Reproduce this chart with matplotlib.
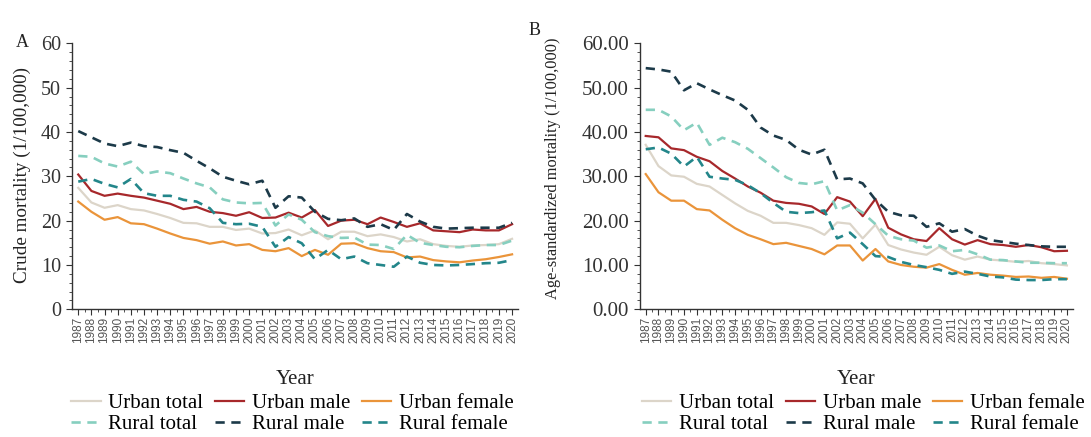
import numpy as np
import matplotlib
matplotlib.use("Agg")
import matplotlib.pyplot as plt
from matplotlib.ticker import MultipleLocator, FormatStrFormatter

# -----------------------------------
# Data
# -----------------------------------

years = list(range(1987, 2021))

# Panel A: crude mortality (1/100,000)
urban_total_a = [27.4, 24.1, 22.9, 23.5, 22.6, 22.3, 21.5, 20.6, 19.5, 19.4, 18.6, 18.6, 17.9, 18.2, 17.1, 17.2, 18.0,
                 16.7, 17.8, 15.8, 17.5, 17.5, 16.5, 16.9, 16.3, 15.3, 15.8, 14.7, 14.3, 14.1, 14.4, 14.5, 14.7, 15.9]
urban_male_a = [30.4, 26.7, 25.6, 26.1, 25.6, 25.2, 24.5, 23.8, 22.6, 23.1, 22.0, 21.7, 21.1, 21.9, 20.6, 20.7, 21.8,
                20.7, 22.4, 18.8, 20.0, 20.2, 19.2, 20.7, 19.7, 18.6, 19.4, 17.8, 17.6, 17.4, 18.0, 17.8, 17.8, 19.2]
urban_female_a = [24.3, 22.0, 20.2, 20.8, 19.4, 19.2, 18.2, 17.1, 16.1, 15.6, 14.8, 15.3, 14.4, 14.7, 13.4, 13.1, 13.8,
                  12.0, 13.4, 12.3, 14.8, 14.9, 13.8, 13.1, 12.9, 11.7, 11.9, 11.1, 10.8, 10.6, 11.0, 11.3, 11.8, 12.4]
rural_total_a = [34.6, 34.4, 32.9, 32.2, 33.3, 30.5, 31.1, 30.7, 29.5, 28.4, 27.5, 24.8, 24.1, 23.9, 24.0, 18.9, 21.4,
                 20.2, 17.4, 16.5, 16.1, 16.2, 14.6, 14.5, 13.6, 16.8, 15.0, 14.5, 14.1, 14.0, 14.3, 14.5, 14.5, 15.5]
rural_male_a = [40.2, 38.8, 37.4, 36.8, 37.6, 36.8, 36.6, 35.9, 35.3, 33.5, 31.8, 29.9, 29.0, 28.2, 29.0, 22.9, 25.5,
                25.2, 22.0, 20.4, 20.1, 20.5, 18.6, 19.2, 17.9, 21.5, 19.8, 18.6, 18.2, 18.3, 18.4, 18.4, 18.4, 19.5]
rural_female_a = [28.8, 29.4, 28.3, 27.5, 29.4, 26.2, 25.6, 25.6, 24.7, 24.3, 22.8, 19.5, 19.2, 19.3, 18.6, 14.1, 16.3,
                  14.9, 11.3, 13.4, 11.3, 11.9, 10.4, 10.0, 9.6, 11.9, 10.5, 10.0, 9.9, 10.0, 10.2, 10.4, 10.5, 11.1]

# Panel B: age-standardized mortality (1/100,000)
urban_total_b = [37.1, 32.3, 30.2, 29.9, 28.3, 27.7, 25.8, 23.9, 22.2, 21.1, 19.5, 19.5, 19.0, 18.3, 16.8, 19.6, 19.3,
                 16.0, 19.1, 14.5, 13.5, 12.8, 12.3, 14.1, 12.2, 11.2, 11.9, 11.2, 11.0, 10.7, 10.9, 10.4, 10.2, 9.9]
urban_male_b = [39.1, 38.8, 36.3, 35.9, 34.4, 33.4, 31.2, 29.5, 27.7, 26.3, 24.5, 24.0, 23.8, 23.2, 21.5, 25.3, 24.3,
                21.0, 24.9, 18.4, 16.9, 15.8, 15.4, 18.3, 15.8, 14.6, 15.6, 14.7, 14.5, 14.1, 14.5, 14.0, 13.1, 13.2]
urban_female_b = [30.5, 26.4, 24.5, 24.5, 22.6, 22.3, 20.2, 18.3, 16.8, 15.8, 14.7, 15.0, 14.3, 13.6, 12.4, 14.4, 14.4,
                  11.0, 13.6, 10.8, 10.0, 9.6, 9.4, 10.2, 8.9, 7.8, 8.2, 7.8, 7.6, 7.3, 7.4, 7.1, 7.3, 6.9]
rural_total_b = [45.0, 45.0, 43.5, 40.4, 42.1, 37.1, 38.7, 37.7, 36.2, 34.1, 32.0, 29.8, 28.5, 28.2, 28.9, 22.3, 23.5,
                 21.8, 19.2, 16.6, 15.8, 15.5, 13.9, 14.4, 13.1, 13.4, 12.4, 11.2, 11.1, 10.8, 10.5, 10.5, 10.4, 10.4]
rural_male_b = [54.4, 54.1, 53.6, 49.4, 51.0, 49.6, 48.3, 47.1, 45.0, 41.0, 39.2, 38.2, 36.0, 34.9, 36.0, 29.3, 29.5,
                28.4, 24.7, 22.0, 21.2, 21.1, 18.6, 19.4, 17.5, 18.1, 16.6, 15.6, 15.2, 14.8, 14.5, 14.2, 14.1, 14.1]
rural_female_b = [36.1, 36.5, 35.1, 32.2, 34.4, 29.9, 29.5, 29.2, 28.0, 26.2, 24.0, 22.0, 21.7, 21.9, 22.3, 16.0, 17.3,
                  14.7, 12.0, 11.8, 10.7, 10.0, 9.5, 8.9, 8.0, 8.5, 8.0, 7.4, 7.2, 6.7, 6.6, 6.6, 6.8, 6.8]

labels = ["Urban total", "Urban male", "Urban female", "Rural total", "Rural male", "Rural female"]
colors = ["#DCD5C9", "#A7282B", "#EA943A", "#86CFBF", "#1C3A49", "#23868A"]
styles = ["-", "-", "-", (0, (3.5, 2.5)), (0, (3.5, 2.5)), (0, (3.5, 2.5))]
widths = [1.6, 1.6, 1.6, 1.9, 1.9, 1.9]

# -----------------------------------
# Style
# -----------------------------------

plt.rcParams["font.family"] = ["Liberation Serif", "DejaVu Serif"]
plt.rcParams["font.size"] = 11

fig = plt.figure(figsize=(10.91, 4.37), dpi=100)
ax_a = fig.add_axes([0.0663, 0.2922, 0.4085, 0.6087])
ax_b = fig.add_axes([0.5866, 0.2922, 0.3966, 0.6087])


def draw_panel(ax, series, ylabel, fmt, ylabel_size, ylabel_xy, tick_size, legend_x):
    x = np.arange(len(years))
    for vals, lab, col, ls, lw in zip(series, labels, colors, styles, widths):
        ax.plot(x, vals, color=col, linestyle=ls, linewidth=lw, label=lab)

    ax.set_xlim(-0.45, len(years) - 0.55)
    ax.set_ylim(0, 60)
    ax.spines["top"].set_visible(False)
    ax.spines["right"].set_visible(False)
    for s in ["left", "bottom"]:
        ax.spines[s].set_color("#333333")
        ax.spines[s].set_linewidth(1.0)

    ax.set_xticks(x)
    ax.set_xticklabels([str(y) for y in years], rotation=90, fontsize=8.5,
                       family="Liberation Sans", color="#555555")
    ax.xaxis.set_minor_locator(MultipleLocator(0.5))
    ax.yaxis.set_major_locator(MultipleLocator(10))
    ax.yaxis.set_minor_locator(MultipleLocator(2))
    ax.yaxis.set_major_formatter(FormatStrFormatter(fmt))
    ax.tick_params(axis="x", which="major", length=4, width=0.8, color="#333333", pad=1.5)
    ax.tick_params(axis="x", which="minor", length=2, width=0.6, color="#333333")
    ax.tick_params(axis="y", which="major", length=4, width=0.8, color="#333333",
                   labelsize=tick_size, labelcolor="#333333", pad=4)
    ax.tick_params(axis="y", which="minor", length=2.5, width=0.6, color="#333333")

    ax.set_ylabel(ylabel, fontsize=ylabel_size, color="#222222")
    ax.yaxis.set_label_coords(*ylabel_xy)
    ax.set_xlabel("Year", fontsize=15, color="#222222", labelpad=19)

    handles, labs = ax.get_legend_handles_labels()
    order = [0, 3, 1, 4, 2, 5]
    ax.legend([handles[i] for i in order], [labs[i] for i in order],
              loc="upper center", bbox_to_anchor=(legend_x, -0.318), ncol=3,
              frameon=False, fontsize=15.0, handlelength=1.4, handletextpad=0.38,
              columnspacing=0.55, labelspacing=0.06, borderaxespad=0, borderpad=0)


# -----------------------------------
# Plot
# -----------------------------------

draw_panel(ax_a, [urban_total_a, urban_male_a, urban_female_a, rural_total_a, rural_male_a, rural_female_a],
           "Crude mortality (1/100,000)", "%d", 13.8, (-0.093, 0.505), 14.5, 0.494)
draw_panel(ax_b, [urban_total_b, urban_male_b, urban_female_b, rural_total_b, rural_male_b, rural_female_b],
           "Age-standardized mortality (1/100,000)", "%.2f", 11.8, (-0.183, 0.53), 15, 0.516)

fig.text(0.0147, 0.892, "A", fontsize=13, color="#222222")
fig.text(0.484, 0.920, "B", fontsize=13, color="#222222")

plt.savefig("out.png", dpi=100)
plt.close()
